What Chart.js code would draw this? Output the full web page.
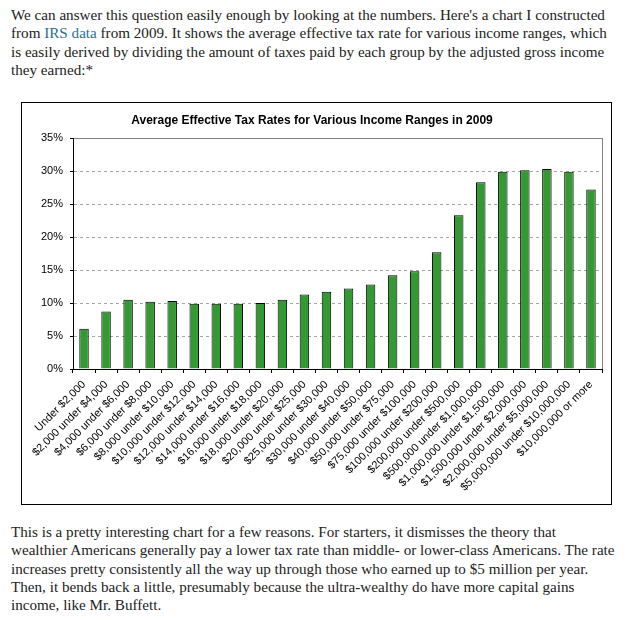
<!DOCTYPE html>
<html>
<head>
<meta charset="utf-8">
<script src="https://cdn.jsdelivr.net/npm/chart.js@4"></script>
<style>
  body { margin:0; background:#fff; width:627px; height:620px; position:relative; overflow:hidden; }
  .txt { position:absolute; left:11px; font-family:'Liberation Serif', serif; font-size:15.15px; line-height:18.3px; color:#222; white-space:nowrap; }
  .txt a { color:#2b6f8f; text-decoration:none; }
  #box { position:absolute; left:21px; top:102px; width:589px; height:401px; border:1px solid #000; }
</style>
</head>
<body>
<div class="txt" style="top:6.1px">
We can answer this question easily enough by looking at the numbers. Here's a chart I constructed<br>
from <a href="#">IRS data</a> from 2009. It shows the average effective tax rate for various income ranges, which<br>
is easily derived by dividing the amount of taxes paid by each group by the adjusted gross income<br>
they earned:*
</div>
<div id="box"><canvas id="myChart" width="589" height="401"></canvas></div>
<div class="txt" style="top:523.1px">
This is a pretty interesting chart for a few reasons. For starters, it dismisses the theory that<br>
wealthier Americans generally pay a lower tax rate than middle- or lower-class Americans. The rate<br>
increases pretty consistently all the way up through those who earned up to $5 million per year.<br>
Then, it bends back a little, presumably because the ultra-wealthy do have more capital gains<br>
income, like Mr. Buffett.
</div>
<script>
const incomeRanges = ['Under $2,000', '$2,000 under $4,000', '$4,000 under $6,000', '$6,000 under $8,000',
    '$8,000 under $10,000', '$10,000 under $12,000', '$12,000 under $14,000', '$14,000 under $16,000',
    '$16,000 under $18,000', '$18,000 under $20,000', '$20,000 under $25,000', '$25,000 under $30,000',
    '$30,000 under $40,000', '$40,000 under $50,000', '$50,000 under $75,000', '$75,000 under $100,000',
    '$100,000 under $200,000', '$200,000 under $500,000', '$500,000 under $1,000,000',
    '$1,000,000 under $1,500,000', '$1,500,000 under $2,000,000', '$2,000,000 under $5,000,000',
    '$5,000,000 under $10,000,000', '$10,000,000 or more'];

const taxRates = [6.1, 8.7, 10.5, 10.2, 10.3, 9.9, 9.9, 9.9, 10.0, 10.5, 11.3, 11.7,
    12.2, 12.8, 14.2, 14.8, 17.7, 23.3, 28.3, 29.9, 30.1, 30.3, 29.9, 27.2];

const yTicks = [0, 5, 10, 15, 20, 25, 30, 35];

const axisFont = { family: 'Liberation Sans', size: 11 };

const data = {
    labels: incomeRanges,
    datasets: [{
        label: 'Average effective tax rate',
        data: taxRates,
        backgroundColor: '#339933',
        borderColor: '#000',
        borderWidth: 1,
        barPercentage: 0.43,
        categoryPercentage: 1
    }]
};

const config = {
    type: 'bar',
    data,
    options: {
        responsive: false,
        animation: false,
        layout: { padding: { left: 0, right: 9, top: 0, bottom: 0 } },
        plugins: {
            legend: { display: false },
            tooltip: { enabled: false },
            title: {
                display: true,
                text: 'Average Effective Tax Rates for Various Income Ranges in 2009',
                color: '#000',
                font: { family: 'Liberation Sans', size: 12, weight: 'bold' },
                padding: { top: 10, bottom: 10.6 }
            }
        },
        scales: {
            x: {
                grid: {
                    offset: true,
                    color: c => c.tick ? 'rgba(0,0,0,0)' : '#808080',
                    tickColor: '#000',
                    tickLength: 4
                },
                border: { color: '#000' },
                ticks: {
                    autoSkip: false,
                    minRotation: 45,
                    maxRotation: 45,
                    color: '#000',
                    font: axisFont,
                    padding: 5
                },
                afterFit: s => { s.height = 135; }
            },
            y: {
                min: 0,
                max: 35,
                afterBuildTicks: s => { s.ticks = yTicks.map(v => ({ value: v })); },
                ticks: { callback: v => v + '%', color: '#000', font: axisFont, padding: 7 },
                grid: {
                    color: c => c.tick.value === 0 ? 'rgba(0,0,0,0)' : (c.tick.value === 35 ? '#808080' : '#a6a6a6'),
                    tickColor: '#000',
                    tickLength: 3
                },
                border: { color: '#000', dash: c => (c.tick && c.tick.value === 35) ? [] : [3, 3] },
                afterFit: s => { s.width = 51; }
            }
        }
    }
};

const myChart = new Chart(document.getElementById('myChart'), config);
</script>
</body>
</html>
